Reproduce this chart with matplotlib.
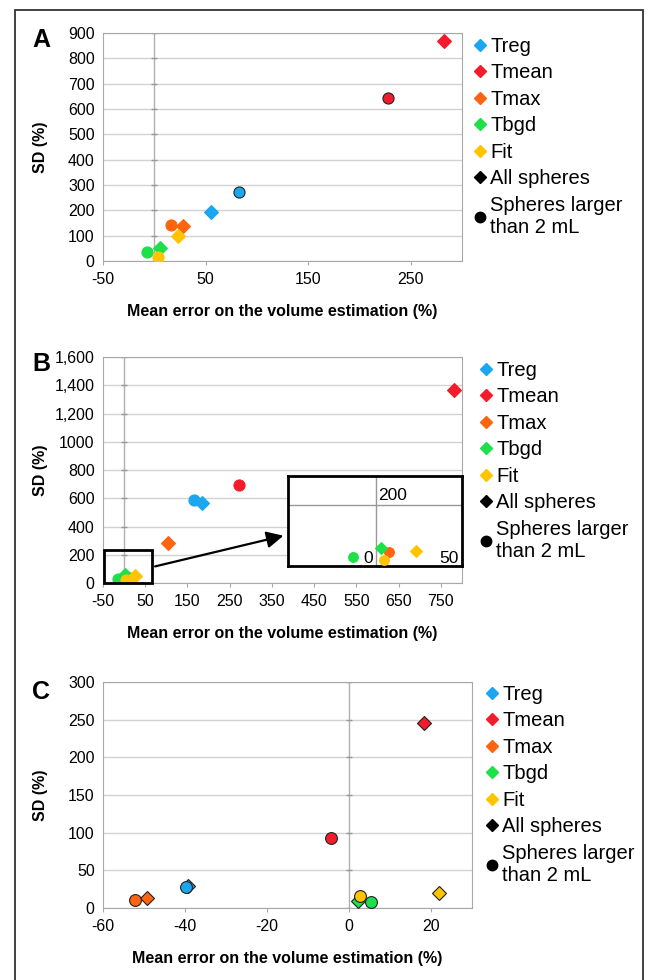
import matplotlib
matplotlib.use("Agg")
import matplotlib.pyplot as plt
from matplotlib.lines import Line2D
from matplotlib.patches import Rectangle

plt.rcParams['font.family'] = ['Liberation Sans', 'DejaVu Sans']
plt.rcParams['axes.unicode_minus'] = False

W, H = 651, 980

series = ["Treg", "Tmean", "Tmax", "Tbgd", "Fit"]
colors = ["#1aa7f0", "#f41c2c", "#ff6410", "#1ee048", "#ffc400"]

# panel A (all spheres = diamonds, spheres > 2 mL = circles)
a_all_x = [55, 282, 28, 6, 23]
a_all_y = [195, 870, 138, 50, 99]
a_big_x = [83, 228, 16, -7, 4]
a_big_y = [272, 645, 142, 36, 16]

# panel B
b_all_x = [184, 781, 104, 3, 26]
b_all_y = [568, 1366, 283, 60, 48]
b_big_x = [166, 273, 8, -15, 5]
b_big_y = [588, 694, 45, 28, 20]

# panel C
c_all_x = [-39.3, 18.3, -49.3, 2.3, 22]
c_all_y = [29, 246, 13, 9, 20]
c_big_x = [-39.8, -4.4, -52.2, 5.4, 2.7]
c_big_y = [28, 93, 10, 8, 16]

a_xticks = [-50, 50, 150, 250]
a_yticks = [0, 100, 200, 300, 400, 500, 600, 700, 800, 900]
b_xticks = [-50, 50, 150, 250, 350, 450, 550, 650, 750]
b_yticks = [0, 200, 400, 600, 800, 1000, 1200, 1400, 1600]
b_ylabels = ["0", "200", "400", "600", "800", "1000", "1,200", "1,400", "1,600"]
c_xticks = [-60, -40, -20, 0, 20]
c_yticks = [0, 50, 100, 150, 200, 250, 300]

xlabel = "Mean error on the volume estimation (%)"
ylabel = "SD (%)"

GRID = "#d2d2d2"
SPINE = "#a8a8a8"

fig = plt.figure(figsize=(W / 100, H / 100), dpi=100)


def px_axes(left, top, right, bottom):
    return fig.add_axes([left / W, 1 - bottom / H, (right - left) / W, (bottom - top) / H])


def style_axes(ax, xticks, xlim, yticks, ylim, ylabels=None, width=359):
    ax.set_xlim(*xlim)
    ax.set_ylim(*ylim)
    ax.set_xticks(xticks)
    ax.set_yticks(yticks)
    if ylabels is not None:
        ax.set_yticklabels(ylabels)
    ax.yaxis.grid(True, color=GRID, lw=1)
    ax.set_axisbelow(True)
    ax.axvline(0, color="#b0b0b0", lw=1, zorder=1)
    ax.plot([0] * len(yticks), yticks, ls="none", marker="_", ms=5, color="#999999", zorder=1)
    for s in ax.spines.values():
        s.set_color(SPINE)
    ax.tick_params(axis="y", length=0, pad=6, labelsize=11.5)
    ax.tick_params(axis="x", length=3, color=SPINE, pad=5, labelsize=11.5)
    ax.set_xlabel(xlabel, fontsize=11.5, fontweight="bold", labelpad=12)
    ax.set_ylabel(ylabel, fontsize=11.5, fontweight="bold", va="center")
    ax.yaxis.set_label_coords(-62 / width, 0.5)


def draw_points(ax, all_x, all_y, big_x, big_y, edge_all, edge_big, ms_d=7, ms_c=8):
    for i in range(len(series)):
        ax.plot(all_x[i], all_y[i], ls="none", marker="D", ms=ms_d, color=colors[i],
                mec="#222222" if edge_all[i] else colors[i], mew=0.8, zorder=3)
        ax.plot(big_x[i], big_y[i], ls="none", marker="o", ms=ms_c, color=colors[i],
                mec="#222222" if edge_big[i] else colors[i], mew=0.8, zorder=3)


def add_legend(x, y):
    handles = [Line2D([], [], ls="none", marker="D", ms=6.5, color=c) for c in colors]
    handles.append(Line2D([], [], ls="none", marker="D", ms=6.5, color="black"))
    handles.append(Line2D([], [], ls="none", marker="o", ms=7.5, color="black"))
    labels = series + ["All spheres", "Spheres larger\nthan 2 mL"]
    fig.legend(handles, labels, loc="upper left", bbox_to_anchor=(x / W, 1 - y / H),
               frameon=False, fontsize=14.5, handlelength=0.7, handletextpad=0.15,
               labelspacing=0.37, borderaxespad=0, borderpad=0)


# ---- panel A
axA = px_axes(103, 33, 462, 261)
style_axes(axA, a_xticks, (-50, 300), a_yticks, (0, 900))
draw_points(axA, a_all_x, a_all_y, a_big_x, a_big_y,
            [False] * 5, [True, True, False, False, False])
add_legend(473, 37)

# ---- panel B
axB = px_axes(103, 357, 462, 583)
style_axes(axB, b_xticks, (-50, 800), b_yticks, (0, 1600), b_ylabels)
draw_points(axB, b_all_x, b_all_y, b_big_x, b_big_y, [False] * 5, [False] * 5)
add_legend(479, 361)

# zoom box + arrow to inset
zoom_x0, zoom_x1, zoom_y0, zoom_y1 = -48, 67, 0, 233
axB.add_patch(Rectangle((zoom_x0, zoom_y0), zoom_x1 - zoom_x0, zoom_y1 - zoom_y0,
                        fill=False, lw=2, ec="black", zorder=4, clip_on=False))
axB.annotate("", xy=(0.51, 0.212), xycoords="axes fraction",
             xytext=(zoom_x1, 113), textcoords="data",
             arrowprops=dict(arrowstyle="-|>,head_length=1.0,head_width=0.5",
                             color="black", lw=1.6), zorder=5)

axI = px_axes(288, 476, 462, 566)
axI.set_xlim(-57, 55.5)
axI.set_ylim(0, 295)
axI.set_xticks([])
axI.set_yticks([])
axI.axvline(0, color="#999999", lw=1)
axI.axhline(200, color="#999999", lw=1)
for s in axI.spines.values():
    s.set_linewidth(2)
    s.set_color("black")
draw_points(axI, b_all_x, b_all_y, b_big_x, b_big_y, [False] * 5, [False] * 5, ms_d=6, ms_c=7)
axI.text(-2, 25, "0", ha="right", va="center", fontsize=12.5)
axI.text(47, 25, "50", ha="center", va="center", fontsize=12.5)
axI.text(1, 205, "200", ha="left", va="bottom", fontsize=12.5)

# ---- panel C
axC = px_axes(103, 682, 472, 908)
style_axes(axC, c_xticks, (-60, 30), c_yticks, (0, 300), width=369)
draw_points(axC, c_all_x, c_all_y, c_big_x, c_big_y, [True] * 5, [True] * 5, ms_d=7, ms_c=8.5)
add_legend(485, 685)

# panel letters
for letter, yy in [("A", 40), ("B", 364), ("C", 692)]:
    fig.text(41 / W, 1 - yy / H, letter, fontsize=18, fontweight="bold", ha="center", va="center")

# outer frame
fig.add_artist(Rectangle((15 / W, -0.05), (643 - 15) / W, 1.05 - 10 / H,
                         transform=fig.transFigure, fill=False, ec="#333333", lw=1.3))

fig.savefig("out.png", dpi=100)
